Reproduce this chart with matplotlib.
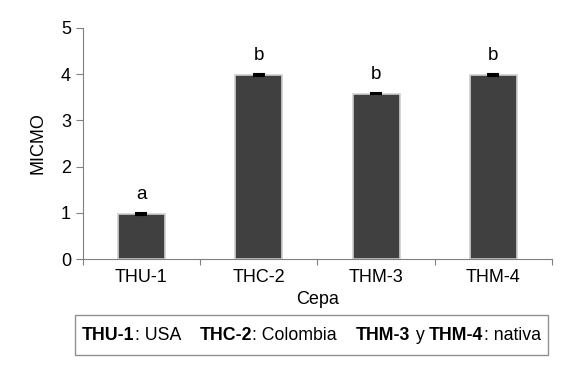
import numpy as np
import matplotlib
matplotlib.use('Agg')
import matplotlib.pyplot as plt
from matplotlib.patches import Rectangle
from matplotlib.offsetbox import TextArea, HPacker, AnchoredOffsetbox

plt.rcParams['font.family'] = ['Liberation Sans', 'DejaVu Sans']

cepas = ['THU-1', 'THC-2', 'THM-3', 'THM-4']
micmo = [0.98, 3.98, 3.58, 3.98]
err = [0.02, 0.02, 0.02, 0.02]
letras = ['a', 'b', 'b', 'b']

fig = plt.figure(figsize=(5.83, 3.67), dpi=100)
ax = fig.add_axes([0.142, 0.294, 0.805, 0.63])

x = np.arange(len(cepas))
ax.bar(x, micmo, width=0.4, color='#404040', edgecolor='#d0d0d0', linewidth=1.2,
       yerr=err, error_kw=dict(ecolor='black', capsize=4, elinewidth=1, capthick=1.5))
for xi, v, l in zip(x, micmo, letras):
    ax.text(xi, v + 0.42, l, ha='center', va='center', fontsize=13.5)

ax.set_xlim(-0.5, 3.5)
ax.set_ylim(0, 5)
ax.set_xticks(np.arange(-0.5, 4, 1), minor=False)
ax.set_xticklabels([])
ax.set_xticks(x, minor=True)
ax.set_xticklabels(cepas, minor=True, fontsize=13)
ax.tick_params(axis='x', which='minor', length=0, pad=7)
ax.tick_params(axis='x', which='major', length=4, color='#808080')
ax.tick_params(axis='y', length=5, color='#808080', labelsize=13)
ax.set_yticks([0, 1, 2, 3, 4, 5])
for s in ['top', 'right']:
    ax.spines[s].set_visible(False)
for s in ['left', 'bottom']:
    ax.spines[s].set_color('#808080')
ax.set_xlabel('Cepa', fontsize=13, labelpad=4)
ax.set_ylabel('MICMO', fontsize=13, labelpad=10)

# recuadro con la procedencia de las cepas
fig.add_artist(Rectangle((75 / 583, 12 / 367), 473 / 583, 40 / 367,
                         transform=fig.transFigure, facecolor='white',
                         edgecolor='#909090', linewidth=1))
partes = [('THU-1', 'bold'), (': USA    ', 'normal'), ('THC-2', 'bold'),
          (': Colombia    ', 'normal'), ('THM-3', 'bold'), (' y ', 'normal'),
          ('THM-4', 'bold'), (': nativa', 'normal')]
areas = [TextArea(t, textprops=dict(fontsize=12.8, fontweight=w)) for t, w in partes]
pack = HPacker(children=areas, align='baseline', pad=0, sep=0)
box = AnchoredOffsetbox(loc='center', child=pack, pad=0, frameon=False,
                        bbox_to_anchor=(0.534, 0.087), bbox_transform=fig.transFigure,
                        borderpad=0)
fig.add_artist(box)

fig.savefig('out.png', dpi=100)
